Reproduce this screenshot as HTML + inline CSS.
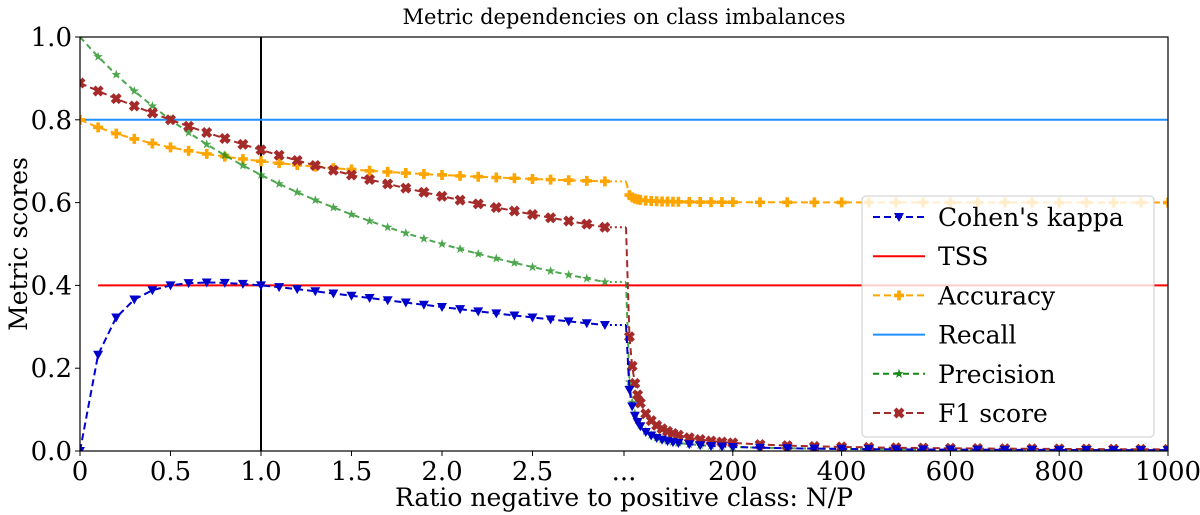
<!DOCTYPE html>
<html><head><meta charset="utf-8"><style>
body{margin:0;background:#fff;}
svg{display:block;font-family:"DejaVu Serif","Liberation Serif",serif;}
</style></head><body>
<svg id="chart" width="1200" height="515"></svg>
<script>
const leftR=[0,0.1,0.2,0.3,0.4,0.5,0.6,0.7,0.8,0.9,1,1.1,1.2,1.3,1.4,1.5,1.6,1.7,1.8,1.9,2,2.1,2.2,2.3,2.4,2.5,2.6,2.7,2.8,2.9];
const kappaL=[0,.2326,.3226,.3659,.3883,.4,.4054,.407,.4061,.4036,.4,.3957,.3909,.3858,.3804,.375,.3695,.364,.3586,.3532,.3478,.3426,.3374,.3324,.3274,.3226,.3178,.3132,.3087,.3043];
const accL=[.8,.7818,.7667,.7538,.7429,.7333,.725,.7176,.7111,.7053,.7,.6952,.6909,.687,.6833,.68,.6769,.6741,.6714,.669,.6667,.6645,.6625,.6606,.6588,.6571,.6556,.6541,.6526,.6513];
const precL=[1,.9524,.9091,.8696,.8333,.8,.7692,.7407,.7143,.6897,.6667,.6452,.625,.6061,.5882,.5714,.5556,.5405,.5263,.5128,.5,.4878,.4762,.4651,.4545,.4444,.4348,.4255,.4167,.4082];
const f1L=[.8889,.8696,.8511,.8333,.8163,.8,.7843,.7692,.7547,.7407,.7273,.7143,.7018,.6897,.678,.6667,.6557,.6452,.6349,.625,.6154,.6061,.597,.5882,.5797,.5714,.5634,.5556,.5479,.5405];
const rightR=[10,15,20,25,30,40,50,60,70,80,90,100,120,140,160,180,200,250,300,350,400,450,500,550,600,650,700,750,800,850,900,950,1000];
const kappaR=[.1476,.1079,.085,.0701,.0597,.046,.0374,.0315,.0272,.024,.0214,.0193,.0162,.0139,.0122,.0109,.0098,.0079,.0066,.0057,.005,.0044,.004,.0036,.0033,.0031,.0028,.0027,.0025,.0023,.0022,.0021,.002];
const accR=[.6182,.6125,.6095,.6077,.6065,.6049,.6039,.6033,.6028,.6025,.6022,.602,.6017,.6014,.6012,.6011,.601,.6008,.6007,.6006,.6005,.6004,.6004,.6004,.6003,.6003,.6003,.6003,.6002,.6002,.6002,.6002,.6002];
const precR=[.1667,.1176,.0909,.0741,.0625,.0476,.0385,.0323,.0278,.0244,.0217,.0196,.0164,.0141,.0123,.011,.0099,.0079,.0066,.0057,.005,.0044,.004,.0036,.0033,.0031,.0028,.0027,.0025,.0023,.0022,.0021,.002];
const f1R=[.2759,.2051,.1633,.1356,.1159,.0899,.0734,.062,.0537,.0473,.0423,.0383,.0321,.0277,.0243,.0217,.0196,.0158,.0131,.0113,.0099,.0088,.0079,.0072,.0066,.0061,.0057,.0053,.005,.0047,.0044,.0042,.004];
const tssValue=0.4, recallValue=0.8, tssStart=0.1, refLine=1;
const yTicks=[0,0.2,0.4,0.6,0.8,1.0];
const xTicksLeft=[0,0.5,1.0,1.5,2.0,2.5];
const xTicksRight=[200,400,600,800,1000];

const L=80,R=1168,T=37,B=451,BREAK=624;
const xl=v=>L+v*181;
const xr=v=>BREAK+v*(R-BREAK)/1000;
const y=v=>B-v*(B-T);
const svg=document.getElementById('chart');
const NS='http://www.w3.org/2000/svg';
function mk(tag,attrs,parent){const e=document.createElementNS(NS,tag);for(const k in attrs)e.setAttribute(k,attrs[k]);(parent||svg).appendChild(e);return e;}
function txt(s,attrs){const e=mk('text',attrs);e.textContent=s;return e;}

const defs=mk('defs',{});const cp=mk('clipPath',{id:'pc'},defs);mk('rect',{x:L,y:T,width:R-L,height:B-T},cp);

let e=mk('line',{x1:xl(refLine),x2:xl(refLine),y1:T,y2:B,stroke:'#000','stroke-width':2});

e=mk('line',{x1:L,x2:R,y1:y(recallValue),y2:y(recallValue),stroke:'#1e90ff','stroke-width':2});

e=mk('line',{x1:xl(tssStart),x2:R,y1:y(tssValue),y2:y(tssValue),stroke:'#ff0000','stroke-width':2});


function marker(g,type,cx,cy,col){
  const s=5;
  if(type==='v')mk('polygon',{points:`${cx-s},${cy-s*0.8} ${cx+s},${cy-s*0.8} ${cx},${cy+s}`,fill:col},g);
  else if(type==='P')mk('path',{d:`M${cx-1.8},${cy-5}h3.6v3.2h3.2v3.6h-3.2v3.2h-3.6v-3.2h-3.2v-3.6h3.2z`,fill:col},g);
  else if(type==='X'){mk('path',{d:`M${cx-2.5},${cy-5.5}L${cx},${cy-3}L${cx+2.5},${cy-5.5}L${cx+5.5},${cy-2.5}L${cx+3},${cy}L${cx+5.5},${cy+2.5}L${cx+2.5},${cy+5.5}L${cx},${cy+3}L${cx-2.5},${cy+5.5}L${cx-5.5},${cy+2.5}L${cx-3},${cy}L${cx-5.5},${cy-2.5}Z`,fill:col},g);}
  else if(type==='*'){let p='';for(let i=0;i<10;i++){const r=i%2?2:5;const a=-Math.PI/2+i*Math.PI/5;p+=`${cx+r*Math.cos(a)},${cy+r*Math.sin(a)} `;}mk('polygon',{points:p,fill:col},g);}
}
function series(name,lv,rv,col,type,op,dash){
  const g=mk('g',{'clip-path':'url(#pc)',opacity:op});
  
  
  const lp=leftR.map((r,i)=>[xl(r),y(lv[i])]);
  mk('polyline',{points:lp.map(p=>p.join(',')).join(' '),fill:'none',stroke:col,'stroke-width':2,'stroke-dasharray':dash},g);
  const last=lp[lp.length-1];
  mk('line',{x1:last[0],y1:last[1],x2:BREAK+2,y2:last[1],stroke:col,'stroke-width':2,'stroke-dasharray':'2,3'},g);
  const rp=[[BREAK+2,last[1]]].concat(rightR.map((r,i)=>[xr(r),y(rv[i])]));
  mk('polyline',{points:rp.map(p=>p.join(',')).join(' '),fill:'none',stroke:col,'stroke-width':2,'stroke-dasharray':dash},g);
  lp.forEach(p=>marker(g,type,p[0],p[1],col));
  rp.slice(1).forEach(p=>marker(g,type,p[0],p[1],col));
}
series('accuracy',accL,accR,'#ffa500','P',1,'7,4');
series('precision',precL,precR,'#138a13','*',0.75,'6,4');
series('f1-score',f1L,f1R,'#a52a2a','X',1,'7,4');
series('cohens-kappa',kappaL,kappaR,'#0000cd','v',1,'7,4');

e=mk('rect',{x:L,y:T,width:R-L,height:B-T,fill:'none',stroke:'#000','stroke-width':1.2});


yTicks.forEach(v=>{mk('line',{x1:L-5,x2:L,y1:y(v),y2:y(v),stroke:'#000'});
  const t=txt(v.toFixed(1),{x:L-8,y:y(v)+9,'text-anchor':'end','font-size':26});
  });
function xt(x,label){mk('line',{x1:x,x2:x,y1:B,y2:B+5,stroke:'#000'});
  const t=txt(label,{x:x,y:B+29,'text-anchor':'middle','font-size':26});
  }
xTicksLeft.forEach(v=>xt(xl(v),v===0?'0':v.toFixed(1)));
xt(BREAK,'...');
xTicksRight.forEach(v=>xt(xr(v),String(v)));

e=txt('Metric dependencies on class imbalances',{x:624,y:24,'text-anchor':'middle','font-size':21});

e=txt('Ratio negative to positive class: N/P',{x:624,y:506,'text-anchor':'middle','font-size':25});

e=txt('Metric scores',{x:0,y:0,'text-anchor':'middle','font-size':25,transform:'translate(27,244) rotate(-90)'});


const lg=mk('g',{});

mk('rect',{x:862,y:196,width:292,height:241,rx:4,fill:'#fff','fill-opacity':0.8,stroke:'#ccc'},lg);
const entries=[["Cohen's kappa",'#0000cd','v','7,4'],['TSS','#ff0000',null,null],['Accuracy','#ffa500','P','7,4'],['Recall','#1e90ff',null,null],['Precision','#138a13','*','6,4'],['F1 score','#a52a2a','X','7,4']];
entries.forEach((en,i)=>{
  const cy=217+i*39.2;
  const g=mk('g',{},lg);
  
  
  const a={x1:873,x2:925,y1:cy,y2:cy,stroke:en[1],'stroke-width':2};if(en[3])a['stroke-dasharray']=en[3];
  mk('line',a,g);
  if(en[2])marker(g,en[2],899,cy,en[1]);
  const t=document.createElementNS(NS,'text');t.setAttribute('x',938);t.setAttribute('y',cy+9);t.setAttribute('font-size',25);t.textContent=en[0];g.appendChild(t);
});
</script>
</body></html>
